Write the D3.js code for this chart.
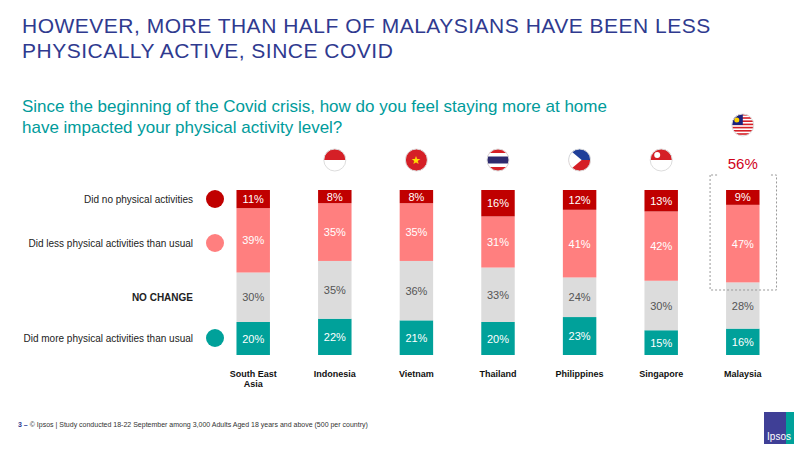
<!DOCTYPE html>
<html>
<head>
<meta charset="utf-8">
<script src="https://d3js.org/d3.v7.min.js"></script>
<style>body{margin:0;background:#fff;} text{font-family:Arial,"Liberation Sans",sans-serif;}</style>
</head>
<body>
<svg id="c" width="800" height="449"></svg>
<script>
var countries = ["South East Asia","Indonesia","Vietnam","Thailand","Philippines","Singapore","Malaysia"];
var more = [20,22,21,20,23,15,16];
var noChange = [30,35,36,33,24,30,28];
var less = [39,35,35,31,41,42,47];
var none = [11,8,8,16,12,13,9];
var seriesNames = ["Did more physical activities than usual","NO CHANGE","Did less physical activities than usual","Did no physical activities"];
var colors = ["#00a19a","#dcdcdc","#ff7f7f","#c00000"];
var textColors = ["#fff","#555","#fff","#fff"];

var svg = d3.select("#c");
svg.append("text").attr("x",22).attr("y",33).attr("fill","#2f3a8f").attr("font-size",21).attr("letter-spacing",0.5).text("HOWEVER, MORE THAN HALF OF MALAYSIANS HAVE BEEN LESS");
svg.append("text").attr("x",22).attr("y",58).attr("fill","#2f3a8f").attr("font-size",21).attr("letter-spacing",0.5).text("PHYSICALLY ACTIVE, SINCE COVID");
svg.append("text").attr("x",22).attr("y",112).attr("fill","#009b9b").attr("font-size",17).text("Since the beginning of the Covid crisis, how do you feel staying more at home");
svg.append("text").attr("x",22).attr("y",133).attr("fill","#009b9b").attr("font-size",17).text("have impacted your physical activity level?");

var x = d3.scaleBand().domain(countries).range([212,784]).paddingInner(0.59).paddingOuter(0.3);
var y = d3.scaleLinear().domain([0,100]).range([355,190]);

var rows = countries.map(function(c,i){return {c:c, more:more[i], noChange:noChange[i], less:less[i], none:none[i]};});
var stack = d3.stack().keys(["more","noChange","less","none"])(rows);

stack.forEach(function(layer,k){
  var g = svg.append("g");
  g.selectAll("rect").data(layer).enter().append("rect")
    .attr("x",function(d){return x(d.data.c);})
    .attr("y",function(d){return y(d[1]);})
    .attr("width",x.bandwidth())
    .attr("height",function(d){return y(d[0])-y(d[1]);})
    .attr("fill",colors[k]);
  g.selectAll("text").data(layer).enter().append("text")
    .attr("x",function(d){return x(d.data.c)+x.bandwidth()/2;})
    .attr("y",function(d){return (y(d[0])+y(d[1]))/2+4;})
    .attr("text-anchor","middle").attr("font-size",11).attr("fill",textColors[k])
    .text(function(d){return (d[1]-d[0])+"%";});
});

// category labels
svg.selectAll(".cat").data(countries).enter().append("text")
  .attr("x",function(d){return x(d)+x.bandwidth()/2;}).attr("y",377)
  .attr("text-anchor","middle").attr("font-size",9).attr("font-weight","bold").attr("fill","#111")
  .each(function(d){
    var t=d3.select(this);
    if(d==="South East Asia"){t.append("tspan").text("South East");t.append("tspan").attr("x",+t.attr("x")).attr("dy",10).text("Asia");}
    else t.text(d);
  });

// legend
var legY = [338,297,243,199];
seriesNames.forEach(function(n,k){
  svg.append("text").attr("x",193).attr("y",legY[k]+4).attr("text-anchor","end").attr("font-size",10)
    .attr("font-weight",k===1?"bold":"normal").attr("fill","#222").text(n);
  if(k!==1) svg.append("circle").attr("cx",215).attr("cy",legY[k]).attr("r",9).attr("fill",colors[k]);
});

// Malaysia highlight
var mx = x("Malaysia");
svg.append("path").attr("d","M"+(mx-16)+",175 V290 H"+(mx+x.bandwidth()+17)+" V175 H"+(mx+x.bandwidth()+10)+" M"+(mx-9)+",175 H"+(mx-16))
  .attr("fill","none").attr("stroke","#999").attr("stroke-dasharray","2,2");
svg.append("text").attr("x",mx+x.bandwidth()/2).attr("y",169).attr("text-anchor","middle").attr("font-size",15).attr("fill","#d0021b").text(
  (less[6]+none[6])+"%");

// flags
var defs = svg.append("defs");
countries.forEach(function(c,i){
  if(i===0) return;
  var cx = x(c)+x.bandwidth()/2, cy = i===6?125:160, r=11;
  defs.append("clipPath").attr("id","f"+i).append("circle").attr("cx",cx).attr("cy",cy).attr("r",r);
  var g = svg.append("g").attr("clip-path","url(#f"+i+")");
  function band(y0,h,col){g.append("rect").attr("x",cx-r).attr("y",cy-r+y0).attr("width",2*r).attr("height",h).attr("fill",col);}
  if(c==="Indonesia"){band(0,11,"#d51f26");band(11,11,"#fff");}
  if(c==="Vietnam"){band(0,22,"#d51f26");g.append("text").attr("x",cx).attr("y",cy+4).attr("text-anchor","middle").attr("font-size",11).attr("fill","#ffde00").text("★");}
  if(c==="Thailand"){band(0,22,"#d51f26");band(4,14,"#fff");band(7.5,7,"#2d2a6e");}
  if(c==="Philippines"){band(0,11,"#1f3f99");band(11,11,"#d51f26");g.append("path").attr("d","M"+(cx-r)+","+(cy-r)+" L"+(cx+2)+","+cy+" L"+(cx-r)+","+(cy+r)+"Z").attr("fill","#fff");}
  if(c==="Singapore"){band(0,11,"#d51f26");band(11,11,"#fff");g.append("circle").attr("cx",cx-4).attr("cy",cy-5).attr("r",3).attr("fill","#fff");}
  if(c==="Malaysia"){for(var s=0;s<7;s++)band(s*3.2,1.6,"#d51f26");band(0,11,null);g.select("rect:last-child").attr("fill","#1a237e").attr("width",11);g.append("circle").attr("cx",cx-6).attr("cy",cy-5).attr("r",2.5).attr("fill","#ffd200");}
  svg.append("circle").attr("cx",cx).attr("cy",cy).attr("r",r).attr("fill","none").attr("stroke","#ddd").attr("stroke-width",1);
});

// footer
var ft = svg.append("text").attr("x",18).attr("y",427).attr("font-size",7).attr("fill","#333");
ft.append("tspan").attr("font-weight","bold").attr("fill","#2f3a8f").text("3 – ");
ft.append("tspan").text("© Ipsos | Study conducted 18-22 September among 3,000 Adults Aged 18 years and above (500 per country)");
svg.append("rect").attr("x",764).attr("y",412).attr("width",30).attr("height",32).attr("fill","#3f3f96");
svg.append("rect").attr("x",786).attr("y",412).attr("width",8).attr("height",32).attr("fill","#00a19a");
svg.append("text").attr("x",779).attr("y",440).attr("text-anchor","middle").attr("font-size",10).attr("fill","#fff").text("Ipsos");
</script>
</body>
</html>
